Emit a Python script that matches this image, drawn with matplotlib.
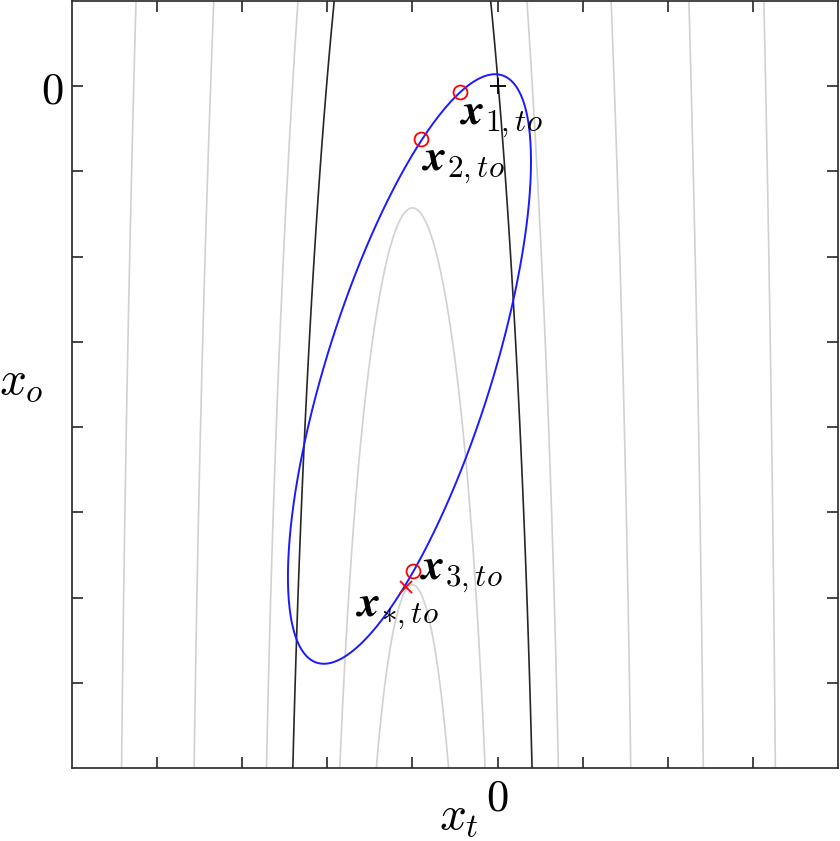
import numpy as np
import matplotlib
matplotlib.use('Agg')
import matplotlib.pyplot as plt

plt.rcParams['mathtext.fontset'] = 'cm'
plt.rcParams['font.family'] = 'serif'
plt.rcParams['font.serif'] = ['DejaVu Serif']

# Axis ranges and ticks
x_range = [-5, 4]
y_range = [-8, 1]
x_ticks = [-4, -3, -2, -1, 0, 1, 2, 3]
y_ticks = [-7, -6, -5, -4, -3, -2, -1, 0]

# Cost surface: f = (xt - xt_c)^2 + a*(xo - xo_0) + b*(xo - xo_0)^2
xt_c = -1.0
xo_0 = -8.0
coef_a = 0.0706
coef_b = 0.00611
gray_levels = [0.18, 0.728, 2.94, 6.58, 11.68, 18.18]
black_levels = [1.975]

# Blue ellipse (center and covariance-like shape)
ell_center = [-1.035, -3.318]
ell_sxx = 2.039
ell_syy = 11.965
ell_sxy = 3.48

# Marked points
circ_x = [-0.443, -0.894, -0.996]
circ_y = [-0.067, -0.620, -5.694]
star_x = [-1.074]
star_y = [-5.871]
origin_x = [0.0]
origin_y = [0.0]

fig = plt.figure(figsize=(8.4, 8.41), dpi=100)
ax = fig.add_axes([72/840, 73/841, 766/840, 767/841])

xt = np.linspace(x_range[0], x_range[1], 600)
xo = np.linspace(y_range[0], y_range[1], 600)
XT, XO = np.meshgrid(xt, xo)
F = (XT - xt_c)**2 + coef_a*(XO - xo_0) + coef_b*(XO - xo_0)**2

ax.contour(XT, XO, F, levels=gray_levels, colors=[(0.82, 0.82, 0.82)], linewidths=1.2)
ax.contour(XT, XO, F, levels=black_levels, colors=[(0.15, 0.15, 0.15)], linewidths=1.2)

# ellipse
S = np.array([[ell_sxx, ell_sxy], [ell_sxy, ell_syy]])
L = np.linalg.cholesky(S)
t = np.linspace(0, 2*np.pi, 400)
pts = L @ np.vstack([np.cos(t), np.sin(t)])
ax.plot(pts[0] + ell_center[0], pts[1] + ell_center[1], color=(0.1, 0.1, 1.0), lw=1.4)

ax.plot(circ_x, circ_y, 'o', mfc='none', mec='red', ms=10, mew=1.3)
ax.plot(star_x, star_y, 'x', color='red', ms=8, mew=1.3)
ax.plot(origin_x, origin_y, '+', color='black', ms=11, mew=1.3)

fs = 32
ax.text(-0.45, -0.12, r'$\boldsymbol{x}_{1,to}$', fontsize=fs, ha='left', va='top')
ax.text(-0.90, -0.66, r'$\boldsymbol{x}_{2,to}$', fontsize=fs, ha='left', va='top')
ax.text(-0.92, -5.72, r'$\boldsymbol{x}_{3,to}$', fontsize=fs, ha='left', va='center')
ax.text(-1.68, -5.90, r'$\boldsymbol{x}_{\ast,to}$', fontsize=fs, ha='left', va='top')

ax.set_xlim(x_range)
ax.set_ylim(y_range)
ax.set_xticks(x_ticks)
ax.set_yticks(y_ticks)
ax.set_xticklabels(['$0$' if v == 0 else '' for v in x_ticks])
ax.set_yticklabels(['$0$' if v == 0 else '' for v in y_ticks])
ax.tick_params(direction='in', length=8, width=1.2, top=True, right=True,
               labelsize=32, colors=(0.15, 0.15, 0.15), labelcolor='black', pad=6)
for sp in ax.spines.values():
    sp.set_color((0.15, 0.15, 0.15))
    sp.set_linewidth(1.2)

ax.set_xlabel(r'$x_t$', fontsize=34)
ax.set_ylabel(r'$x_o$', fontsize=34, rotation=0)
ax.xaxis.set_label_coords(0.505, -0.034)
ax.yaxis.set_label_coords(-0.066, 0.475)

fig.savefig('out.png', dpi=100)
